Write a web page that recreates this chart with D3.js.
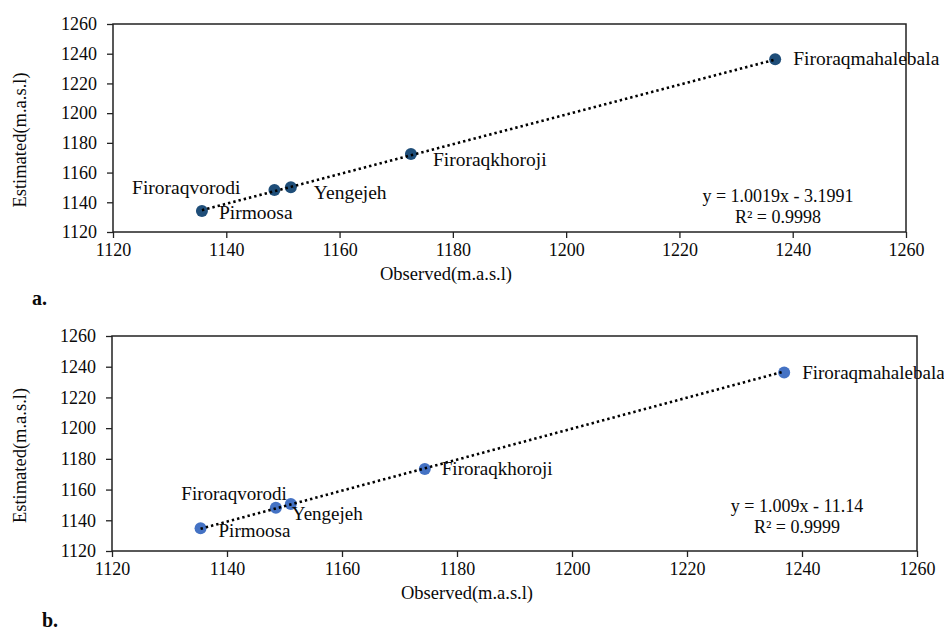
<!DOCTYPE html>
<html>
<head>
<meta charset="utf-8">
<script src="https://cdn.jsdelivr.net/npm/d3@7"></script>
<style>
  body { margin: 0; background: #fff; }
  svg { display: block; font-family: "Liberation Serif", "Times New Roman", serif; }
</style>
</head>
<body>
<svg id="chart" width="944" height="631"></svg>
<script>
// Station names
const stations = ['Pirmoosa', 'Firoraqvorodi', 'Yengejeh', 'Firoraqkhoroji', 'Firoraqmahalebala'];

// Panel a values
const observedA = [1135.7, 1148.5, 1151.4, 1172.6, 1236.9];
const estimatedA = [1134.1, 1148.3, 1150.1, 1172.5, 1236.2];
const fitA = { slope: 1.0019, intercept: -3.1991 };
const eqA = ['y = 1.0019x - 3.1991', 'R² = 0.9998'];

// Panel b values
const observedB = [1135.4, 1148.5, 1151.1, 1174.4, 1236.9];
const estimatedB = [1134.8, 1148.2, 1150.6, 1173.4, 1236.3];
const fitB = { slope: 1.009, intercept: -11.14 };
const eqB = ['y = 1.009x - 11.14', 'R² = 0.9999'];

// Shared axis ticks
const ticks = [1120, 1140, 1160, 1180, 1200, 1220, 1240, 1260];

const svg = d3.select('#chart');
const ink = '#0a0a0a';

function drawPanel(opts) {
  const { left, right, top, bottom, obs, est, fit, eq, eqX, color,
          labelSize, labelOffsets, titleX, tag, tagY, eqY } = opts;

  const x = d3.scaleLinear().domain([1120, 1260]).range([left, right]);
  const y = d3.scaleLinear().domain([1120, 1260]).range([bottom, top]);
  const g = svg.append('g');

  // x axis
  const xa = g.append('g')
    .attr('transform', `translate(0,${bottom})`)
    .call(d3.axisBottom(x).tickValues(ticks).tickSize(6).tickSizeOuter(0).tickPadding(5).tickFormat(d3.format('d')));
  xa.select('.domain').remove();
  xa.selectAll('text').style('font-size', '18px').style('font-family', 'Liberation Serif').attr('fill', ink);
  xa.selectAll('line').attr('stroke', '#222').attr('stroke-width', 1.3);

  // y axis
  const ya = g.append('g')
    .attr('transform', `translate(${left},0)`)
    .call(d3.axisLeft(y).tickValues(ticks).tickSize(6).tickSizeOuter(0).tickPadding(10).tickFormat(d3.format('d')));
  ya.select('.domain').remove();
  ya.selectAll('text').style('font-size', '18px').style('font-family', 'Liberation Serif').attr('fill', ink);
  ya.selectAll('line').attr('stroke', '#222').attr('stroke-width', 1.3);

  // plot frame
  g.append('rect')
    .attr('x', left).attr('y', top)
    .attr('width', right - left).attr('height', bottom - top)
    .attr('fill', 'none').attr('stroke', '#222').attr('stroke-width', 1.5);

  const pts = obs.map((o, i) => ({ name: stations[i], o, e: est[i], off: labelOffsets[i] }));

  // markers
  g.selectAll('.dot')
    .data(pts)
    .join('circle')
    .attr('cx', d => x(d.o))
    .attr('cy', d => y(d.e))
    .attr('r', 6)
    .attr('fill', color);

  // linear trendline (dotted)
  const xMin = d3.min(obs), xMax = d3.max(obs);
  g.append('line')
    .attr('x1', x(xMin)).attr('y1', y(fit.slope * xMin + fit.intercept))
    .attr('x2', x(xMax)).attr('y2', y(fit.slope * xMax + fit.intercept))
    .attr('stroke', '#000')
    .attr('stroke-width', 2.6)
    .attr('stroke-dasharray', '2.4 3');

  // point labels
  g.selectAll('.lbl')
    .data(pts)
    .join('text')
    .attr('x', d => x(d.o) + d.off[0])
    .attr('y', d => y(d.e) + d.off[1])
    .attr('text-anchor', d => d.off[2] || 'start')
    .style('font-size', labelSize + 'px')
    .attr('fill', ink)
    .text(d => d.name);

  // equation
  g.append('text')
    .attr('x', eqX).attr('y', eqY)
    .attr('text-anchor', 'middle')
    .style('font-size', '18px').attr('fill', ink)
    .text(eq[0]);
  g.append('text')
    .attr('x', eqX).attr('y', eqY + 21)
    .attr('text-anchor', 'middle')
    .style('font-size', '18px').attr('fill', ink)
    .text(eq[1]);

  // axis titles
  g.append('text')
    .attr('x', titleX).attr('y', bottom + 48)
    .attr('text-anchor', 'middle')
    .style('font-size', '18.5px').attr('fill', ink)
    .text('Observed(m.a.s.l)');
  g.append('text')
    .attr('transform', `translate(26,${(top + bottom) / 2 + 12}) rotate(-90)`)
    .attr('text-anchor', 'middle')
    .style('font-size', '18.5px').attr('fill', ink)
    .text('Estimated(m.a.s.l)');

  // panel tag
  g.append('text')
    .attr('x', tag.x).attr('y', tagY)
    .style('font-size', '20px').style('font-weight', 'bold').attr('fill', ink)
    .text(tag.text);
}

drawPanel({
  left: 113, right: 906, top: 24, bottom: 232,
  obs: observedA, est: estimatedA, fit: fitA, eq: eqA,
  eqX: 778, eqY: 202, color: '#1F4E79', labelSize: 19.5,
  labelOffsets: [[17, 8], [-34, 4, 'end'], [23, 12], [22, 12], [18, 6]],
  titleX: 446, tag: { x: 32, text: 'a.' }, tagY: 305
});

drawPanel({
  left: 112, right: 917, top: 336, bottom: 551,
  obs: observedB, est: estimatedB, fit: fitB, eq: eqB,
  eqX: 797, eqY: 512, color: '#4472C4', labelSize: 19,
  labelOffsets: [[18, 9], [11, -8, 'end'], [1, 16], [17, 6], [18, 7]],
  titleX: 467, tag: { x: 42, text: 'b.' }, tagY: 627
});
</script>
</body>
</html>
